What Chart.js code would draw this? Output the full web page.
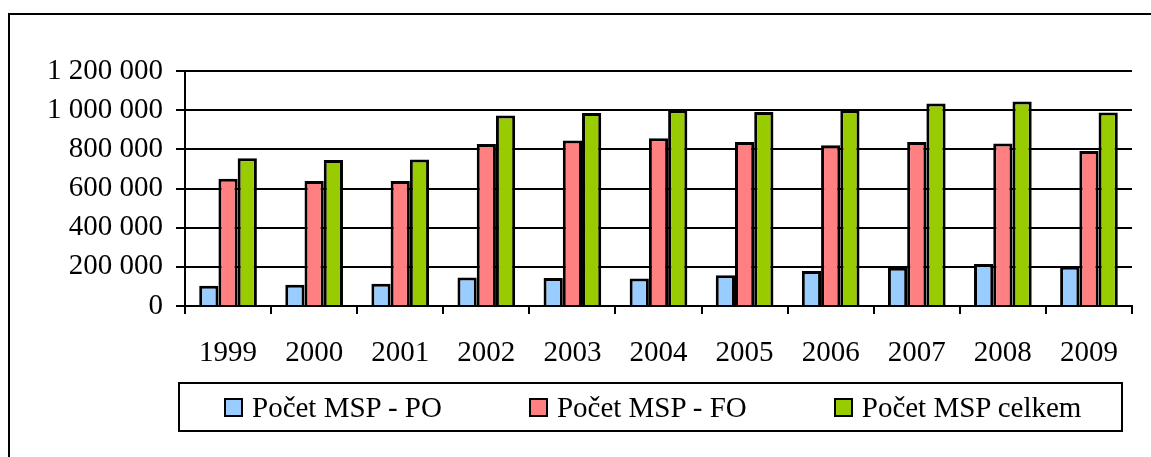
<!DOCTYPE html>
<html>
<head>
<meta charset="utf-8">
<script src="https://cdn.jsdelivr.net/npm/chart.js@4"></script>
<style>
  html, body { margin: 0; padding: 0; background: #fff; }
  #wrap { position: relative; width: 1151px; height: 457px; overflow: hidden; }
  #frame { position: absolute; left: 8px; top: 13px; width: 1200px; height: 500px;
           border-left: 2px solid #000; border-top: 2px solid #000; }
  #box { position: absolute; left: 0; top: 0; width: 1151px; height: 457px; }
  #legend { position: absolute; left: 178px; top: 382px; width: 945px; height: 50px;
            border: 2px solid #000; display: flex; align-items: center;
            padding-left: 44px; box-sizing: border-box; gap: 87px;
            font-family: 'Liberation Serif', 'Times New Roman', serif; font-size: 29px; color: #000; }
  #legend span.item { display: flex; align-items: center; white-space: nowrap; }
  #legend span.sw { display: inline-block; width: 15px; height: 15px; border: 2px solid #000; margin-right: 9px; }
</style>
</head>
<body>
<div id="wrap">
  <div id="frame"></div>
  <div id="box"><canvas id="myChart"></canvas></div>
  <div id="legend"></div>
</div>
<script>
var years = ["1999", "2000", "2001", "2002", "2003", "2004", "2005", "2006", "2007", "2008", "2009"];
var pocetPO = [104000, 109000, 114000, 146000, 143000, 141000, 157000, 179000, 195000, 214000, 200000];
var pocetFO = [650000, 638000, 638000, 827000, 845000, 857000, 838000, 821000, 838000, 830000, 792000];
var pocetCelkem = [754000, 745000, 748000, 973000, 986000, 1000000, 991000, 1000000, 1034000, 1044000, 988000];
var seriesNames = ["Počet MSP - PO", "Počet MSP - FO", "Počet MSP celkem"];
var barColors = ["#99CCFF", "#FF8080", "#99CC00"];

Chart.defaults.font.family = "'Liberation Serif', 'Times New Roman', serif";
Chart.defaults.font.size = 29;
Chart.defaults.color = "#000";

function spaced(v) {
  return String(v).replace(/\B(?=(\d{3})+(?!\d))/g, " ");
}

var chart = new Chart("myChart", {
  type: "bar",
  data: {
    labels: years,
    datasets: [
      { label: seriesNames[0], data: pocetPO, backgroundColor: barColors[0] },
      { label: seriesNames[1], data: pocetFO, backgroundColor: barColors[1] },
      { label: seriesNames[2], data: pocetCelkem, backgroundColor: barColors[2] }
    ]
  },
  options: {
    responsive: true,
    maintainAspectRatio: false,
    animation: false,
    layout: { padding: { left: 0, right: 19, top: 71, bottom: 91 } },
    datasets: {
      bar: {
        borderColor: "#000",
        borderWidth: 3,
        categoryPercentage: 0.67,
        barPercentage: 1.0
      }
    },
    plugins: {
      legend: { display: false },
      tooltip: { enabled: false }
    },
    scales: {
      x: {
        grid: { drawOnChartArea: false, color: "#000", lineWidth: 2, tickLength: 8, offset: true },
        border: { color: "#000", width: 2 },
        ticks: { padding: 22, maxRotation: 0 },
        afterFit: function (s) { s.height = 60; }
      },
      y: {
        min: 0,
        max: 1200000,
        grid: { color: "#000", lineWidth: 2, tickLength: 9 },
        border: { color: "#000", width: 2 },
        ticks: { stepSize: 200000, padding: 13, callback: function (v) { return spaced(v); } },
        afterFit: function (s) { s.width = 185; }
      }
    }
  }
});

var legend = document.getElementById("legend");
chart.data.datasets.forEach(function (ds) {
  var item = document.createElement("span");
  item.className = "item";
  var sw = document.createElement("span");
  sw.className = "sw";
  sw.style.background = ds.backgroundColor;
  item.appendChild(sw);
  item.appendChild(document.createTextNode(ds.label));
  legend.appendChild(item);
});
</script>
</body>
</html>
